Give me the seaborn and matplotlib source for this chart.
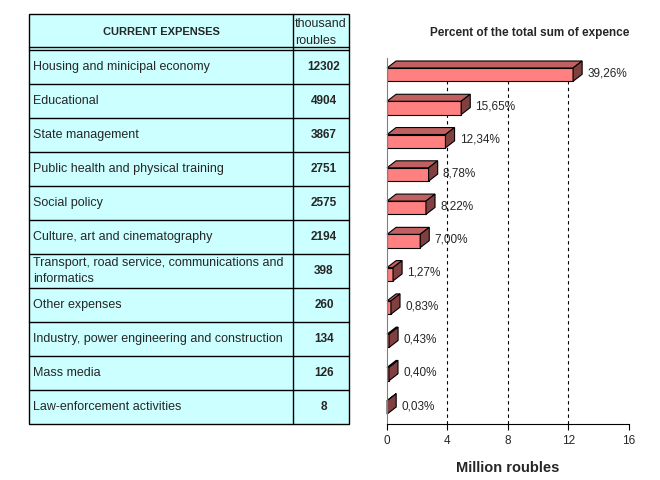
import matplotlib
matplotlib.use('Agg')
import matplotlib.pyplot as plt
from matplotlib.patches import Polygon, Rectangle
import seaborn as sns
import pandas as pd

categories = ['Housing and minicipal economy', 'Educational', 'State management',
              'Public health and physical training', 'Social policy',
              'Culture, art and cinematography',
              'Transport, road service, communications and\ninformatics',
              'Other expenses', 'Industry, power engineering and construction',
              'Mass media', 'Law-enforcement activities']
thousand_roubles = [12302, 4904, 3867, 2751, 2575, 2194, 398, 260, 134, 126, 8]
percent_labels = ['39,26%', '15,65%', '12,34%', '8,78%', '8,22%', '7,00%',
                  '1,27%', '0,83%', '0,43%', '0,40%', '0,03%']
x_ticks = [0, 4, 8, 12, 16]

df = pd.DataFrame({'category': categories,
                   'million': [v / 1000 for v in thousand_roubles]})

sns.set_style('white')
plt.rcParams['font.family'] = ['Liberation Sans', 'DejaVu Sans']

fig = plt.figure(figsize=(6.6, 4.8), dpi=100)
fig.patch.set_facecolor('white')

# ---- table on the left, drawn in pixel coordinates ----
tab = fig.add_axes([0, 0, 1, 1])
tab.set_xlim(0, 660)
tab.set_ylim(480, 0)
tab.axis('off')

left, right, mid = 29, 349, 293
top, head_bot, rows_top, row_h = 14, 47, 50, 34
bottom = rows_top + row_h * len(categories)

tab.add_patch(Rectangle((left, top), right - left, bottom - top,
                        facecolor='#CCFFFF', edgecolor='black', lw=1))
tab.plot([mid, mid], [top, bottom], color='black', lw=1)
tab.plot([left, right], [head_bot, head_bot], color='black', lw=1)
tab.plot([left, right], [rows_top, rows_top], color='black', lw=1)
for i in range(1, len(categories)):
    y = rows_top + row_h * i
    tab.plot([left, right], [y, y], color='black', lw=1)

tab.text((left + mid) / 2, 32, 'CURRENT EXPENSES', ha='center', va='center',
         fontsize=8, fontweight='bold')
tab.text(mid + 2, 24, 'thousand', ha='left', va='center', fontsize=9)
tab.text(mid + 2, 41, 'roubles', ha='left', va='center', fontsize=9)

for i, (name, val) in enumerate(zip(categories, thousand_roubles)):
    yc = rows_top + row_h * i + row_h / 2
    tab.text(left + 4, yc, name, ha='left', va='center', fontsize=9,
             linespacing=1.45)
    tab.text(324, yc, str(val), ha='center', va='center',
             fontsize=8.5, fontweight='bold')

# ---- 3D-looking bar chart on the right ----
ax = fig.add_axes([387 / 660, 56 / 480, 242 / 660, 366 / 480])
ax.set_facecolor('none')
sns.barplot(data=df, x='million', y='category', orient='h', color='#FF8080',
            saturation=1, edgecolor='black', linewidth=0.8, width=0.4, ax=ax)

dx, dy = 0.6, 0.21
for p in ax.patches:
    x0, y0 = p.get_x(), p.get_y()
    w, h = p.get_width(), p.get_height()
    top_face = [(x0, y0), (x0 + w, y0), (x0 + w + dx, y0 - dy), (x0 + dx, y0 - dy)]
    side_face = [(x0 + w, y0), (x0 + w, y0 + h), (x0 + w + dx, y0 + h - dy),
                 (x0 + w + dx, y0 - dy)]
    ax.add_patch(Polygon(top_face, closed=True, facecolor='#C06060',
                         edgecolor='black', lw=0.8, clip_on=False))
    ax.add_patch(Polygon(side_face, closed=True, facecolor='#804040',
                         edgecolor='black', lw=0.8, clip_on=False))

for i, (v, lab) in enumerate(zip(df['million'], percent_labels)):
    ax.text(v + dx + 0.35, i - 0.04, lab, ha='left', va='center', fontsize=8.5)

ax.set_xlim(0, 16)
ax.set_ylim(len(categories) - 0.5, -0.5)
ax.set_xticks(x_ticks)
ax.set_xticklabels([str(t) for t in x_ticks], fontsize=8.5)
ax.tick_params(axis='x', bottom=True, length=4, width=0.8, color='black', pad=4)
ax.tick_params(axis='y', left=False, labelleft=False)
ax.set_ylabel('')
ax.set_xlabel('Million roubles', fontsize=10.5, fontweight='bold', labelpad=10)

for t in [4, 8, 12]:
    ax.axvline(t, color='black', lw=0.8, linestyle=(0, (3, 3)), zorder=0)

ax.spines['top'].set_visible(False)
ax.spines['right'].set_visible(False)
ax.spines['bottom'].set_color('black')
ax.spines['left'].set_color('#808080')

fig.text(530 / 660, 1 - 33 / 480, 'Percent of the total sum of expence',
         ha='center', va='center', fontsize=8.5, fontweight='bold')

fig.savefig('out.png', dpi=100)
